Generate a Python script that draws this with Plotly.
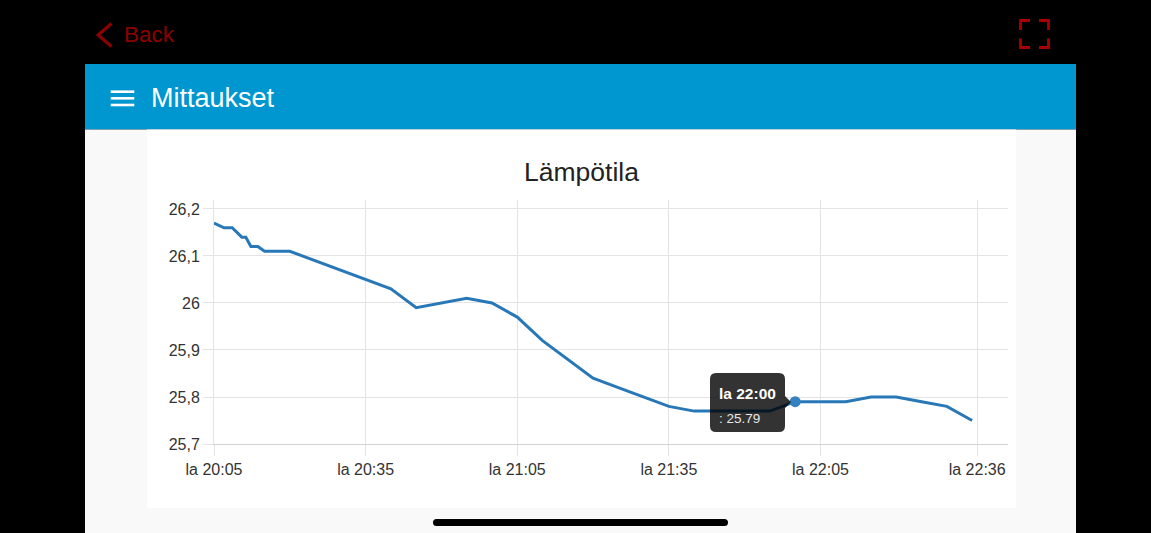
import plotly.graph_objects as go

# ---------------- data ----------------
DAY = "2019-06-01 "
times = ["20:05:00", "20:07:00", "20:08:36", "20:09:36", "20:10:30", "20:11:18",
         "20:12:18", "20:13:40", "20:15:00", "20:20:00", "20:25:00", "20:30:00",
         "20:35:00", "20:40:00", "20:45:00", "20:50:00", "20:55:00", "21:00:00",
         "21:05:00", "21:10:00", "21:15:00", "21:20:00", "21:25:00", "21:30:00",
         "21:35:00", "21:40:00", "21:45:00", "21:50:00", "21:55:00", "22:00:00",
         "22:05:00", "22:10:00", "22:15:00", "22:20:00", "22:25:00", "22:30:00",
         "22:35:00"]
temps = [26.17, 26.16, 26.16, 26.15, 26.14, 26.14, 26.12, 26.12, 26.11, 26.11,
         26.09, 26.07, 26.05, 26.03, 25.99, 26.00, 26.01, 26.00, 25.97, 25.92,
         25.88, 25.84, 25.82, 25.80, 25.78, 25.77, 25.77, 25.77, 25.77, 25.79,
         25.79, 25.79, 25.80, 25.80, 25.79, 25.78, 25.75]

x_tick_times = ["20:05", "20:35", "21:05", "21:35", "22:05", "22:36"]
x_tick_labels = ["la 20:05", "la 20:35", "la 21:05", "la 21:35", "la 22:05", "la 22:36"]
y_tick_vals = [25.7, 25.8, 25.9, 26.0, 26.1, 26.2]
y_tick_labels = ["25,7", "25,8", "25,9", "26", "26,1", "26,2"]

title_text = "Lämpötila"
header_text = "Mittaukset"
back_text = "Back"
hover_index = 29  # the highlighted point (22:00)

# ---------------- geometry helpers ----------------
W, H = 1151, 533
FONT = "Liberation Sans, Arial, Helvetica, sans-serif"


def px(x):
    return x / W


def py(y):
    return 1 - y / H


def P(x, y):
    return f"{px(x):.5f},{py(y):.5f}"


def rrect(x0, y0, x1, y1, r):
    return (f"M {P(x0 + r, y0)} L {P(x1 - r, y0)} Q {P(x1, y0)} {P(x1, y0 + r)} "
            f"L {P(x1, y1 - r)} Q {P(x1, y1)} {P(x1 - r, y1)} "
            f"L {P(x0 + r, y1)} Q {P(x0, y1)} {P(x0, y1 - r)} "
            f"L {P(x0, y0 + r)} Q {P(x0, y0)} {P(x0 + r, y0)} Z")


def tooltip_path(x0, y0, x1, y1, r, cy, tipx, half):
    return (f"M {P(x0 + r, y0)} L {P(x1 - r, y0)} Q {P(x1, y0)} {P(x1, y0 + r)} "
            f"L {P(x1, cy - half)} L {P(tipx, cy)} L {P(x1, cy + half)} "
            f"L {P(x1, y1 - r)} Q {P(x1, y1)} {P(x1 - r, y1)} "
            f"L {P(x0 + r, y1)} Q {P(x0, y1)} {P(x0, y1 - r)} "
            f"L {P(x0, y0 + r)} Q {P(x0, y0)} {P(x0 + r, y0)} Z")


def rect(x0, y0, x1, y1, color, layer="below"):
    return dict(type="rect", xref="paper", yref="paper", x0=px(x0), x1=px(x1),
                y0=py(y1), y1=py(y0), fillcolor=color, line=dict(width=0), layer=layer)


def pline(pts, color, width):
    d = "M " + " L ".join(P(a, b) for a, b in pts)
    return dict(type="path", xref="paper", yref="paper", path=d,
                line=dict(color=color, width=width), layer="above")


# ---------------- figure ----------------
xs = [DAY + t for t in times]
LINE = "#2878b8"

fig = go.Figure()
fig.add_trace(go.Scatter(x=xs, y=temps, mode="lines",
                         line=dict(color=LINE, width=3), hoverinfo="skip"))
fig.add_trace(go.Scatter(x=[xs[hover_index]], y=[temps[hover_index]], mode="markers",
                         marker=dict(color="#3482c2", size=11, line=dict(width=0)),
                         hoverinfo="skip"))

shapes = [
    rect(85, 64, 1076, 129.5, "#0096cf"),
    rect(85, 129.5, 1076, 533, "#f9f9f9"),
    rect(147, 129.5, 1016, 508, "#ffffff"),
    dict(type="path", xref="paper", yref="paper", path=rrect(433, 519, 728, 526, 3.5),
         fillcolor="#000000", line=dict(width=0), layer="above"),
    # hamburger
    pline([(110.7, 91.7), (134.3, 91.7)], "#ffffff", 2.6),
    pline([(110.7, 98.3), (134.3, 98.3)], "#ffffff", 2.6),
    pline([(110.7, 105), (134.3, 105)], "#ffffff", 2.6),
    # back chevron
    pline([(111.5, 23.5), (98, 35), (111.5, 46.5)], "#8e0000", 3),
    # fullscreen icon corners
    pline([(1020.5, 30), (1020.5, 20.5), (1030, 20.5)], "#a80000", 2.8),
    pline([(1039, 20.5), (1048.5, 20.5), (1048.5, 30)], "#a80000", 2.8),
    pline([(1020.5, 38.5), (1020.5, 47.5), (1030, 47.5)], "#a80000", 2.8),
    pline([(1039, 47.5), (1048.5, 47.5), (1048.5, 38.5)], "#a80000", 2.8),
    # tooltip
    dict(type="path", xref="paper", yref="paper",
         path=tooltip_path(710, 373, 785, 432, 6, 402, 791, 6),
         fillcolor="rgba(0,0,0,0.8)", line=dict(width=0), layer="above"),
]

hh, mm = times[hover_index].split(":")[:2]
annotations = [
    dict(text=header_text, x=px(148.5), y=py(98), xref="paper", yref="paper",
         xanchor="left", yanchor="middle", showarrow=False,
         font=dict(family=FONT, size=27, color="#ffffff")),
    dict(text=back_text, x=px(122), y=py(35), xref="paper", yref="paper",
         xanchor="left", yanchor="middle", showarrow=False,
         font=dict(family=FONT, size=22.5, color="#8e0000")),
    dict(text=f"<b>la {hh}:{mm}</b>", x=px(716.5), y=py(393), xref="paper", yref="paper",
         xanchor="left", yanchor="middle", showarrow=False,
         font=dict(family=FONT, size=15.5, color="#ffffff")),
    dict(text=f": {temps[hover_index]:.2f}", x=px(716.5), y=py(418.5), xref="paper",
         yref="paper", xanchor="left", yanchor="middle", showarrow=False,
         font=dict(family=FONT, size=13.5, color="#e8e8e8")),
]

GRID = "#e4e4e4"
fig.update_layout(
    width=W, height=H, autosize=False,
    margin=dict(l=0, r=0, t=0, b=0, pad=0, autoexpand=False),
    paper_bgcolor="#000000", plot_bgcolor="#ffffff",
    showlegend=False, hovermode=False,
    title=dict(text=title_text, x=px(581.5), y=py(172), xanchor="center",
               yanchor="middle", automargin=False,
               font=dict(family=FONT, size=26.5, color="#222222")),
    shapes=shapes, annotations=annotations,
    xaxis=dict(
        type="date", domain=[px(214), px(1008)], automargin=False,
        range=[DAY + "20:05:00", DAY + "22:42:06"],
        tickvals=[DAY + t for t in x_tick_times], ticktext=x_tick_labels,
        showgrid=True, gridcolor=GRID, gridwidth=1,
        ticks="outside", ticklen=11, tickcolor=GRID,
        showline=True, linecolor="#d2d2d2", linewidth=1.2,
        zeroline=False,
        tickfont=dict(family=FONT, size=16, color="#333333"),
    ),
    yaxis=dict(
        domain=[py(444), py(200)], range=[25.7, 26.2191], automargin=False,
        tickvals=y_tick_vals, ticktext=y_tick_labels,
        showgrid=True, gridcolor=GRID, gridwidth=1,
        ticks="outside", ticklen=10, tickcolor=GRID,
        showline=True, linecolor=GRID, linewidth=1,
        zeroline=False,
        tickfont=dict(family=FONT, size=16, color="#333333"),
    ),
)

fig.write_html("out.html", config={"displayModeBar": False, "staticPlot": True},
               post_script="document.body.style.margin='0px';"
                           "document.body.style.overflow='hidden';")
